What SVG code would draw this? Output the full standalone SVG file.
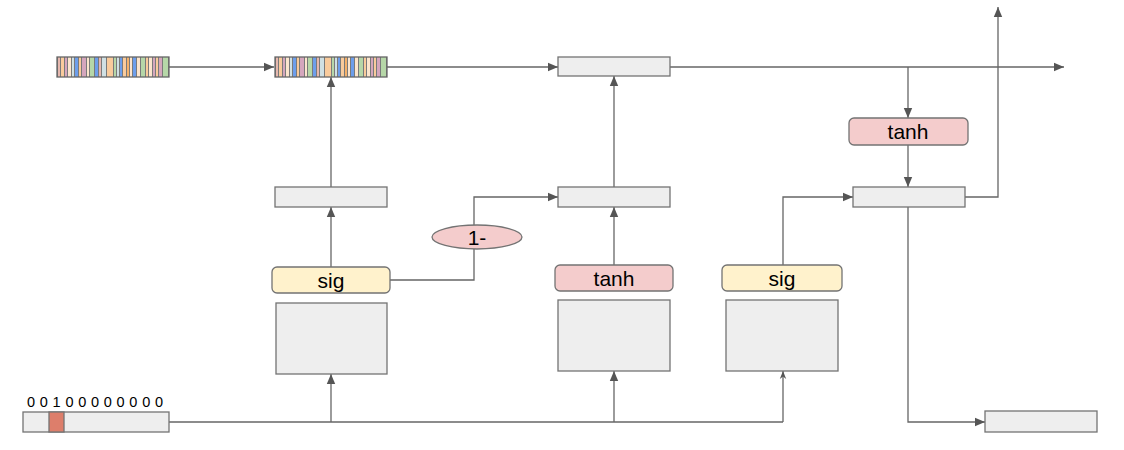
<svg xmlns="http://www.w3.org/2000/svg" xmlns:xlink="http://www.w3.org/1999/xlink" width="1124" height="450" viewBox="0 0 1124 450">
  <style>
    .box { fill: #eeeeee; stroke: #737373; stroke-width: 1.3; }
    .sig { fill: #fff2cc; stroke: #737373; stroke-width: 1.3; }
    .act { fill: #f4cccc; stroke: #737373; stroke-width: 1.3; }
    .lbl { font-family: "Liberation Sans", Arial, sans-serif; font-size: 21px; fill: #000; text-anchor: middle; }
    .bits { font-family: "Liberation Sans", Arial, sans-serif; font-size: 14.5px; fill: #000; }
    .wire { fill: none; stroke: #666666; stroke-width: 1.3; }
  </style>
  <defs>
    <marker id="arr" viewBox="0 0 10 10" refX="10" refY="5" markerWidth="10" markerHeight="10" markerUnits="userSpaceOnUse" orient="auto">
      <path d="M0,0.8 L10,5 L0,9.2 Z" fill="#555555"/>
    </marker>
    <marker id="arrThin" viewBox="0 0 10 10" refX="10" refY="5" markerWidth="8" markerHeight="8" markerUnits="userSpaceOnUse" orient="auto">
      <path d="M0,1 L10,5 L0,9 L3,5 Z" fill="#555555"/>
    </marker>
    <!-- embedding vector: a strip of coloured cells -->
    <g id="embedding">
      <rect x="0" y="0" width="112" height="20" fill="#7a7a7a"/>
      <rect x="1" y="0" width="2" height="20" fill="#e6b8af"/>
      <rect x="4" y="0" width="3" height="20" fill="#f9cb9c"/>
      <rect x="8" y="0" width="2" height="20" fill="#d5a6bd"/>
      <rect x="11" y="0" width="3" height="20" fill="#fce5cd"/>
      <rect x="15" y="0" width="2" height="20" fill="#d0e0e3"/>
      <rect x="18" y="0" width="3" height="20" fill="#6d9eeb"/>
      <rect x="22" y="0" width="2" height="20" fill="#f9cb9c"/>
      <rect x="25" y="0" width="4" height="20" fill="#d5a6bd"/>
      <rect x="30" y="0" width="2" height="20" fill="#fce5cd"/>
      <rect x="33" y="0" width="4" height="20" fill="#b6d7a8"/>
      <rect x="38" y="0" width="3" height="20" fill="#6d9eeb"/>
      <rect x="42" y="0" width="2" height="20" fill="#e6b8af"/>
      <rect x="45" y="0" width="4" height="20" fill="#d0e0e3"/>
      <rect x="50" y="0" width="6" height="20" fill="#f9cb9c"/>
      <rect x="57" y="0" width="2" height="20" fill="#b6d7a8"/>
      <rect x="60" y="0" width="2" height="20" fill="#d0e0e3"/>
      <rect x="63" y="0" width="2" height="20" fill="#6d9eeb"/>
      <rect x="66" y="0" width="3" height="20" fill="#f9cb9c"/>
      <rect x="70" y="0" width="2" height="20" fill="#f6b26b"/>
      <rect x="73" y="0" width="2" height="20" fill="#fce5cd"/>
      <rect x="76" y="0" width="3" height="20" fill="#6d9eeb"/>
      <rect x="80" y="0" width="3" height="20" fill="#fce5cd"/>
      <rect x="84" y="0" width="4" height="20" fill="#b6d7a8"/>
      <rect x="89" y="0" width="2" height="20" fill="#f9cb9c"/>
      <rect x="92" y="0" width="3" height="20" fill="#fce5cd"/>
      <rect x="96" y="0" width="2" height="20" fill="#d5a6bd"/>
      <rect x="99" y="0" width="2" height="20" fill="#f9cb9c"/>
      <rect x="102" y="0" width="3" height="20" fill="#d5a6bd"/>
      <rect x="106" y="0" width="5" height="20" fill="#b6d7a8"/>
      <rect x="0" y="0" width="112" height="20" fill="none" stroke="#666666" stroke-width="1.3"/>
    </g>
  </defs>

  <rect width="1124" height="450" fill="#ffffff"/>

  <!-- connectors -->
  <g id="connectors">
    <path class="wire" d="M169,67 H274" marker-end="url(#arr)"/>
    <path class="wire" d="M387,67 H558" marker-end="url(#arr)"/>
    <path class="wire" d="M670,67 H1064" marker-end="url(#arr)"/>
    <path class="wire" d="M908,67 V118" marker-end="url(#arr)"/>
    <path class="wire" d="M908,145 V187" marker-end="url(#arr)"/>
    <path class="wire" d="M965,197 H998 V7" marker-end="url(#arr)"/>
    <path class="wire" d="M908,207 V422 H985" marker-end="url(#arr)"/>

    <path class="wire" d="M331,187 V77" marker-end="url(#arr)"/>
    <path class="wire" d="M331,267 V207" marker-end="url(#arr)"/>
    <path class="wire" d="M390,280 H474 V249"/>
    <path class="wire" d="M474,225 V197 H558" marker-end="url(#arr)"/>

    <path class="wire" d="M614,187 V76" marker-end="url(#arr)"/>
    <path class="wire" d="M614,265 V207" marker-end="url(#arr)"/>

    <path class="wire" d="M783,265 V197 H853" marker-end="url(#arr)"/>

    <path class="wire" d="M169,422 H783"/>
    <path class="wire" d="M331,422 V374" marker-end="url(#arr)"/>
    <path class="wire" d="M614,422 V371" marker-end="url(#arr)"/>
    <path class="wire" d="M783,422 V371" marker-end="url(#arrThin)"/>
  </g>

  <!-- embeddings -->
  <g id="embedding-in"><use xlink:href="#embedding" href="#embedding" x="57" y="57"/></g>
  <g id="embedding-prev"><use xlink:href="#embedding" href="#embedding" x="275" y="57"/></g>

  <!-- memory state -->
  <g id="memory"><rect class="box" x="558" y="57" width="112" height="19"/></g>

  <!-- left column: forget gate -->
  <g id="gate-left"><rect class="box" x="275" y="187" width="112" height="20"/></g>
  <g id="sig-left"><rect class="sig" x="272" y="267" width="118" height="26" rx="5"/><text class="lbl" x="331" y="288">sig</text></g>
  <g id="weights-left"><rect class="box" x="276" y="303" width="111" height="71"/></g>

  <!-- one-minus -->
  <g id="one-minus"><ellipse class="act" cx="477" cy="237" rx="45" ry="12"/><text class="lbl" x="477" y="245">1-</text></g>

  <!-- middle column: candidate -->
  <g id="gate-mid"><rect class="box" x="558" y="187" width="112" height="20"/></g>
  <g id="tanh-mid"><rect class="act" x="555" y="265" width="118" height="26" rx="5"/><text class="lbl" x="614" y="286">tanh</text></g>
  <g id="weights-mid"><rect class="box" x="558" y="300" width="112" height="71"/></g>

  <!-- right column: output gate -->
  <g id="sig-right"><rect class="sig" x="722" y="265" width="120" height="26" rx="5"/><text class="lbl" x="782" y="286">sig</text></g>
  <g id="weights-right"><rect class="box" x="726" y="300" width="112" height="71"/></g>
  <g id="tanh-right"><rect class="act" x="849" y="118" width="119" height="27" rx="5"/><text class="lbl" x="908" y="139">tanh</text></g>
  <g id="gate-right"><rect class="box" x="853" y="187" width="112" height="20"/></g>

  <!-- output -->
  <g id="output"><rect class="box" x="985" y="411" width="112" height="21"/></g>

  <!-- one-hot input -->
  <g id="input">
    <rect class="box" x="23" y="412" width="146" height="20"/>
    <rect x="49" y="412" width="15" height="20" fill="#dd7e6b" stroke="#737373" stroke-width="1.3"/>
    <text class="bits" x="27" y="407" textLength="136" lengthAdjust="spacing">0 0 1 0 0 0 0 0 0 0 0</text>
  </g>
</svg>
